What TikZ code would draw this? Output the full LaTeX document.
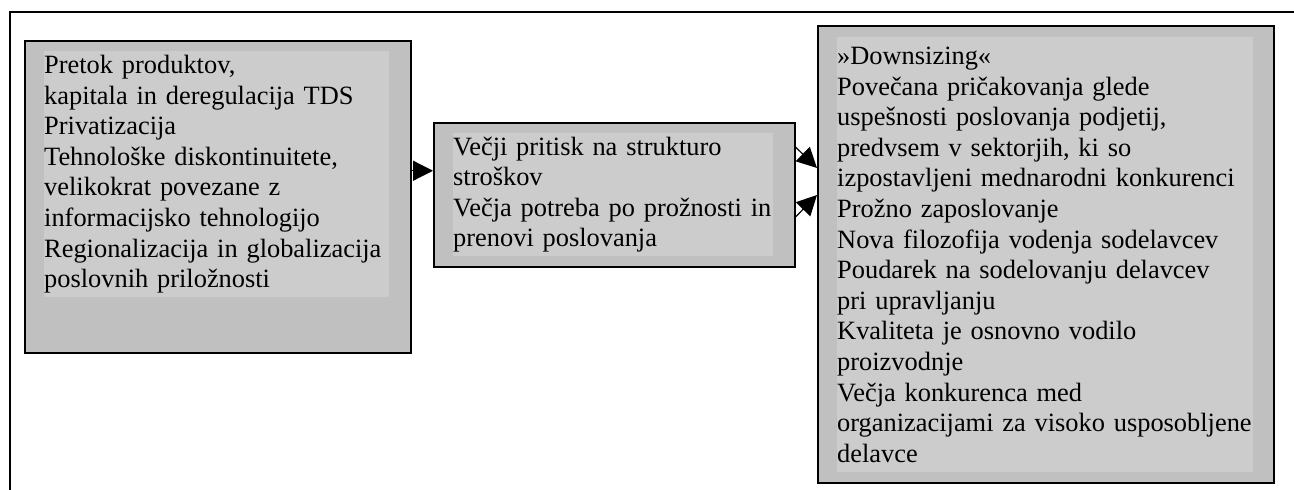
\documentclass[tikz,border=0pt]{standalone}
\usepackage{fontspec}
\setmainfont{Liberation Serif}
\usetikzlibrary{positioning,arrows.meta}
\definecolor{outergray}{HTML}{C0C0C0}
\definecolor{innergray}{HTML}{CCCCCC}

\begin{document}
\begin{tikzpicture}[x=1pt,y=-1pt,
    box/.style={draw=black,line width=1.5pt,fill=outergray,inner sep=0pt,anchor=north west},
    txt/.style={fill=innergray,inner sep=0pt,align=left,anchor=north west,font=\fontsize{26.4}{30.6}\selectfont},
    arr/.style={line width=1.2pt,-{Triangle[length=20pt,width=20pt]}}]
      \useasboundingbox (0,0) rectangle (1294,490);
      \draw[line width=1.5pt] (1294,12) -- (10,12) -- (10,490);
      % levi okvir
      \node[box,minimum width=386pt,minimum height=312pt](pretok) at (24,40){};
      \node[txt,text width=345pt,minimum height=246pt](pretoktext) at (44,51){Pretok produktov,\\
        kapitala in deregulacija TDS\\
        Privatizacija\\
        Tehnološke diskontinuitete,\\
        velikokrat povezane z\\
        informacijsko tehnologijo\\
        Regionalizacija in globalizacija\\
        poslovnih priložnosti};
      % srednji okvir
      \node[box,minimum width=361pt,minimum height=144pt](pritisk) at (433,122){};
      \node[txt,text width=320pt,minimum height=123pt](pritisktext) at (453,133){Večji pritisk na strukturo\\
        stroškov\\
        Večja potreba po prožnosti in\\
        prenovi poslovanja};
      % desni okvir
      \node[box,minimum width=456pt,minimum height=457pt](downsizing) at (817,25){};
      \node[txt,text width=416pt,minimum height=435pt](downsizingtext) at (837,37){»Downsizing«\\
        Povečana pričakovanja glede\\
        uspešnosti poslovanja podjetij,\\
        predvsem v sektorjih, ki so\\
        izpostavljeni mednarodni konkurenci\\
        Prožno zaposlovanje\\
        Nova filozofija vodenja sodelavcev\\
        Poudarek na sodelovanju delavcev\\
        pri upravljanju\\
        Kvaliteta je osnovno vodilo\\
        proizvodnje\\
        Večja konkurenca med\\
        organizacijami za visoko usposobljene\\
        delavce};
      \draw[arr] ([yshift=26pt]pretok.east) -- ([yshift=24pt]pritisk.west);
      \draw[arr] ([yshift=-25pt]pritisk.north east) -- ([yshift=-143pt]downsizing.north west);
      \draw[arr] ([yshift=-95pt]pritisk.north east) -- ([yshift=-170pt]downsizing.north west);
    \end{tikzpicture}
\end{document}
